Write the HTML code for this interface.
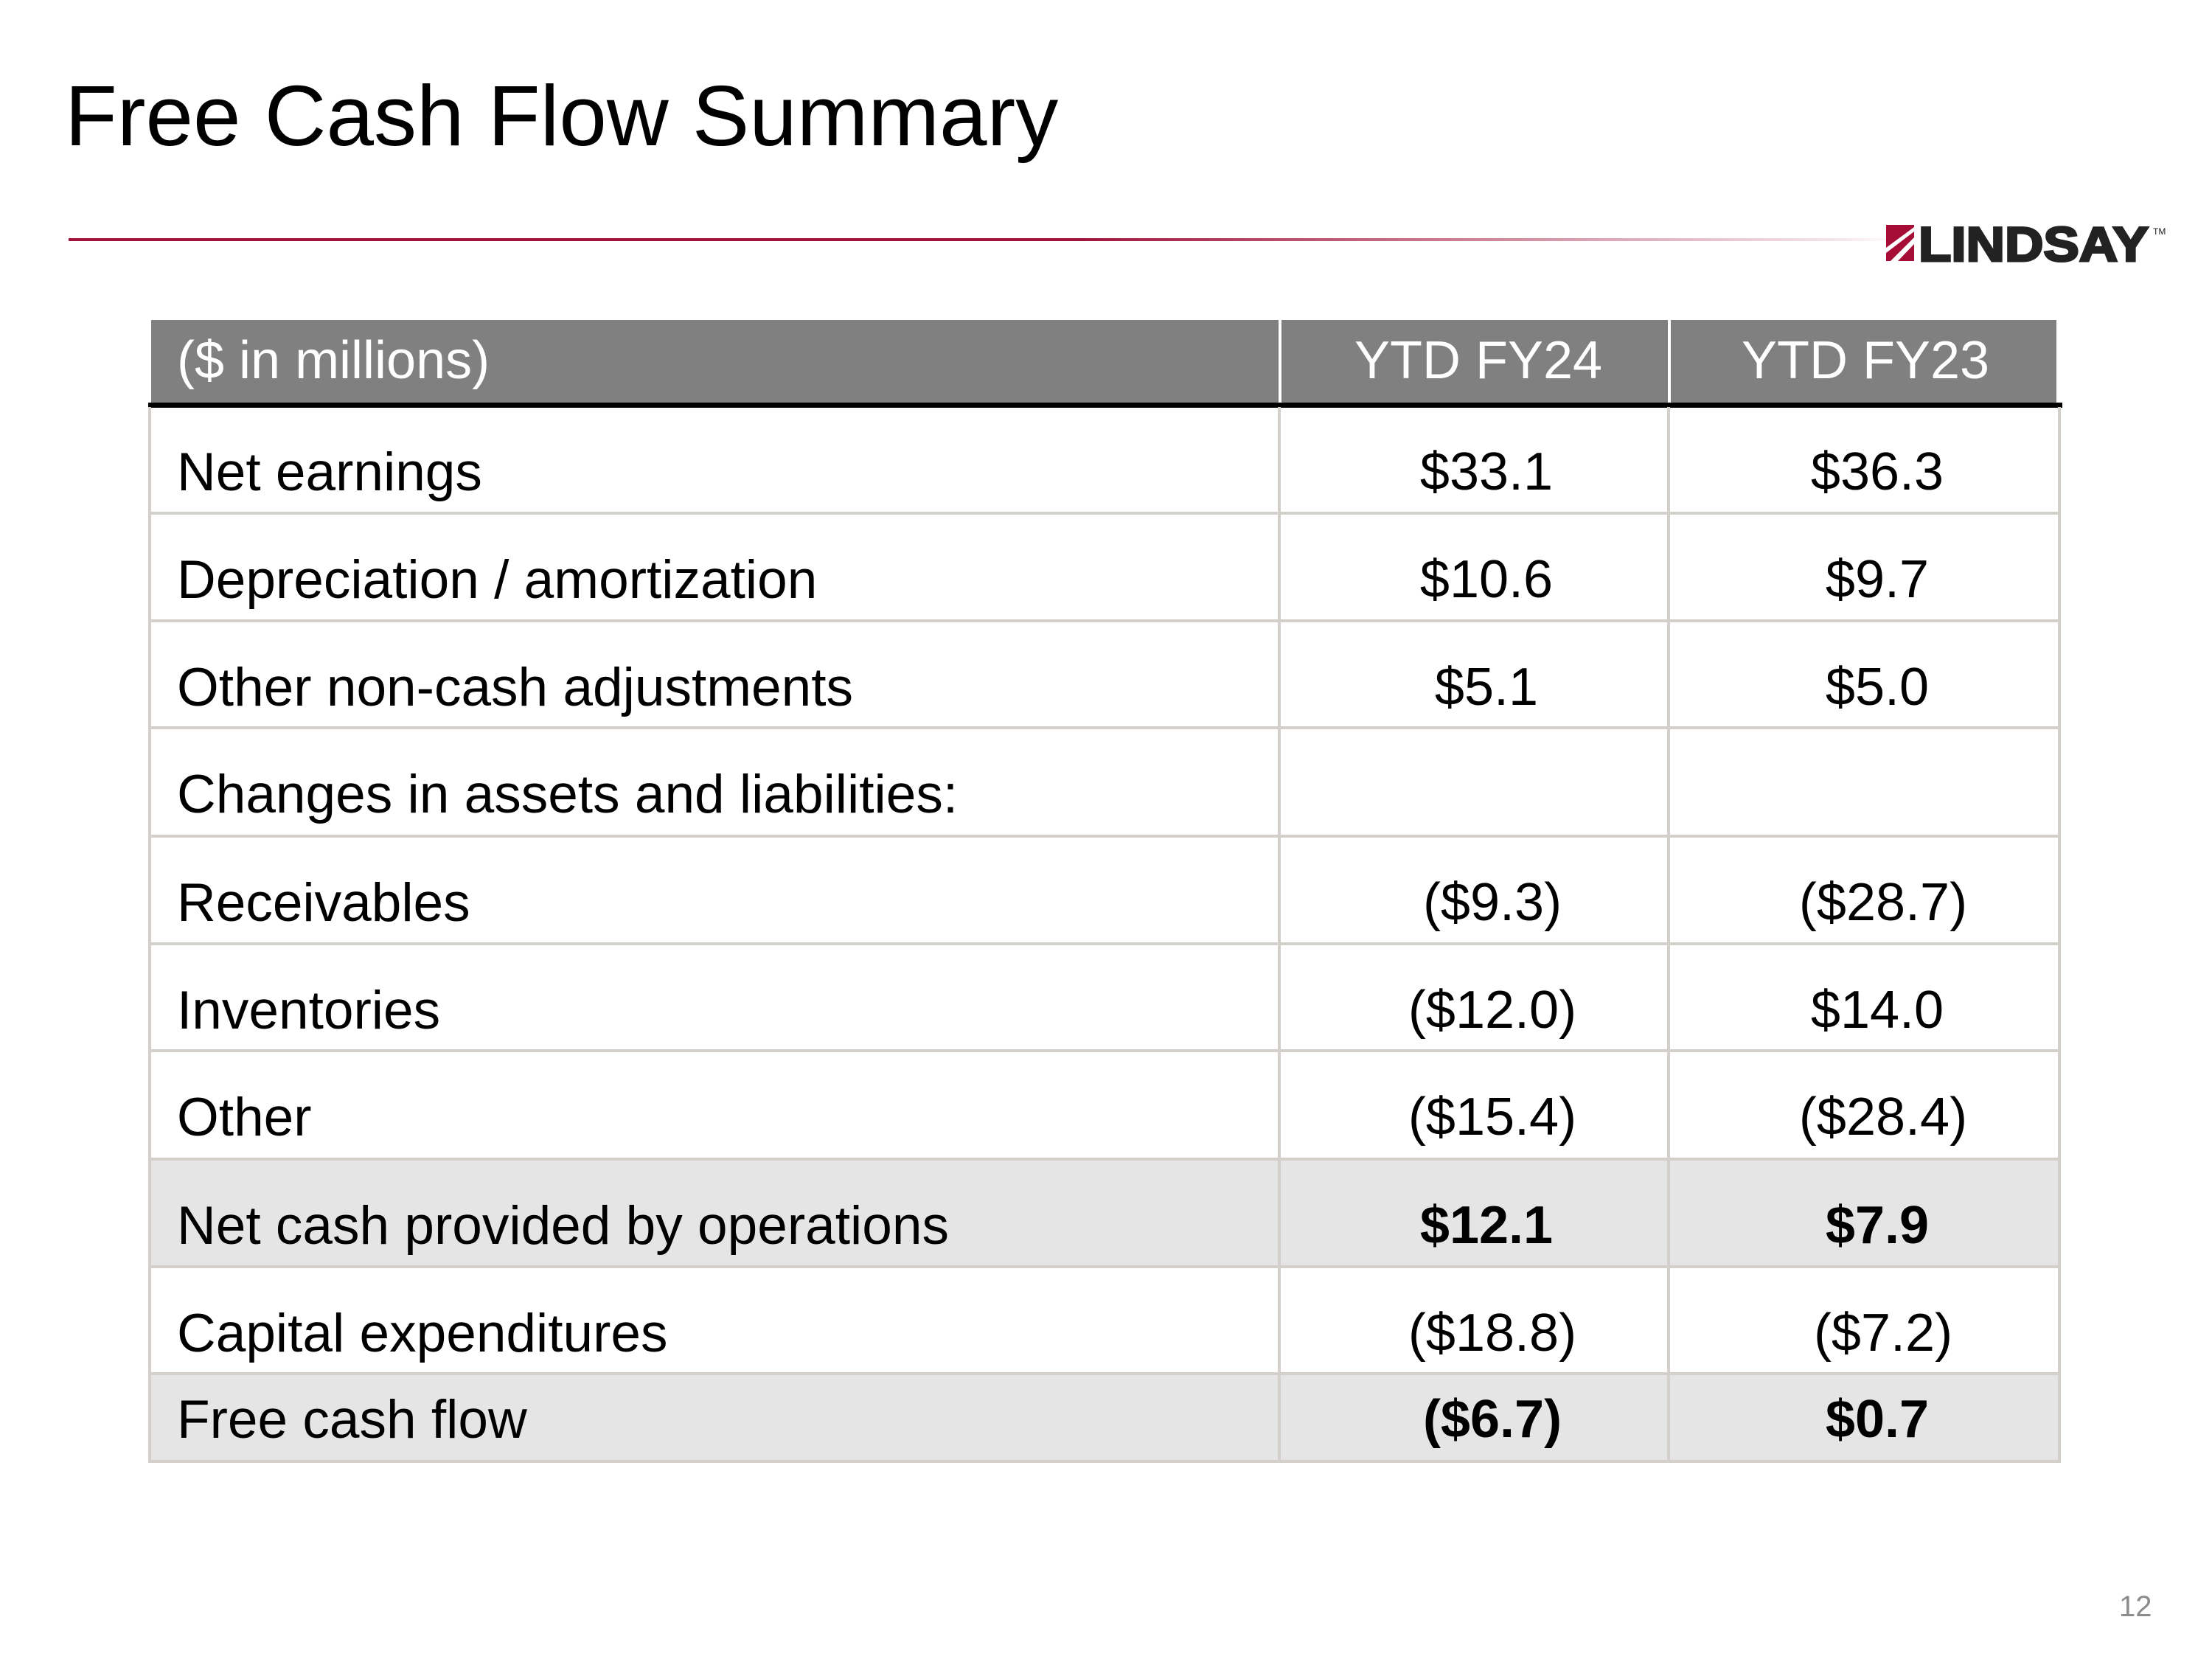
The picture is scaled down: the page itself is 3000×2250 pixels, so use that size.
<!DOCTYPE html>
<html><head><meta charset="utf-8"><style>
body{margin:0;width:3000px;height:2250px;background:#fff;position:relative;overflow:hidden;font-family:"Liberation Sans",Arial,sans-serif;}
.t{position:absolute;white-space:nowrap;}
.l{position:absolute;font-size:73px;color:#000;left:240px;white-space:nowrap;}
.c{position:absolute;font-size:72px;color:#000;width:400px;text-align:center;white-space:nowrap;}
.h{position:absolute;height:4px;left:201px;width:2594px;background:#d3d0cc;}
.v{position:absolute;width:4px;top:552px;height:1432px;background:#d3d0cc;}
</style></head><body>
<div class="t" style="left:88px;top:90px;font-size:116px;color:#000;">Free Cash Flow Summary</div>
<div style="position:absolute;left:93px;top:323px;width:2480px;height:4px;background:linear-gradient(to right,#a0143c 0%,#a0143c 55%,rgba(160,20,60,0.1) 97%,rgba(160,20,60,0) 100%);"></div>
<svg style="position:absolute;left:2550px;top:298px" width="430" height="70">
<polygon points="8,7 46,7 46,56 8,56" fill="#a50d37"/>
<polygon points="8,38 46,10 46,16 8,45" fill="#fff"/>
<polygon points="14,56 46,24 46,33 24,56" fill="#fff"/>
<text x="52" y="56" font-family="Liberation Sans" font-weight="bold" font-size="66" textLength="312" lengthAdjust="spacingAndGlyphs" fill="#222" stroke="#222" stroke-width="3">LINDSAY</text>
<text x="370" y="20" font-family="Liberation Sans" font-size="12" fill="#222">TM</text>
</svg>
<div style="position:absolute;left:205px;top:434px;width:2584px;height:112px;background:#808080;"></div>
<div style="position:absolute;left:1734px;top:434px;width:4px;height:112px;background:#fff;"></div>
<div style="position:absolute;left:2262px;top:434px;width:4px;height:112px;background:#fff;"></div>
<div class="t" style="left:240px;top:448px;font-size:72px;color:#fff;">($ in millions)</div>
<div class="c" style="left:1805px;top:448px;font-size:72px;color:#fff;">YTD FY24</div>
<div class="c" style="left:2330px;top:448px;font-size:72px;color:#fff;">YTD FY23</div>
<div style="position:absolute;left:201px;top:546px;width:2596px;height:7px;background:#000;"></div>
<div style="position:absolute;left:203px;top:1572px;width:2590px;height:146px;background:#e5e5e5;"></div>
<div style="position:absolute;left:203px;top:1863px;width:2590px;height:119px;background:#e5e5e5;"></div>
<div class="v" style="left:201px"></div>
<div class="v" style="left:1733px"></div>
<div class="v" style="left:2261px"></div>
<div class="v" style="left:2791px"></div>
<div class="h" style="top:694px"></div>
<div class="h" style="top:840px"></div>
<div class="h" style="top:985px"></div>
<div class="h" style="top:1132px"></div>
<div class="h" style="top:1278px"></div>
<div class="h" style="top:1423px"></div>
<div class="h" style="top:1570px"></div>
<div class="h" style="top:1716px"></div>
<div class="h" style="top:1861px"></div>
<div class="h" style="top:1980px"></div>
<div class="l" style="top:599px">Net earnings</div><div class="c" style="left:1816px;top:599px">$33.1</div><div class="c" style="left:2346px;top:599px">$36.3</div>
<div class="l" style="top:745px">Depreciation / amortization</div><div class="c" style="left:1816px;top:745px">$10.6</div><div class="c" style="left:2346px;top:745px">$9.7</div>
<div class="l" style="top:891px">Other non-cash adjustments</div><div class="c" style="left:1816px;top:891px">$5.1</div><div class="c" style="left:2346px;top:891px">$5.0</div>
<div class="l" style="top:1036px">Changes in assets and liabilities:</div>
<div class="l" style="top:1183px">Receivables</div><div class="c" style="left:1824px;top:1183px">($9.3)</div><div class="c" style="left:2354px;top:1183px">($28.7)</div>
<div class="l" style="top:1329px">Inventories</div><div class="c" style="left:1824px;top:1329px">($12.0)</div><div class="c" style="left:2346px;top:1329px">$14.0</div>
<div class="l" style="top:1474px">Other</div><div class="c" style="left:1824px;top:1474px">($15.4)</div><div class="c" style="left:2354px;top:1474px">($28.4)</div>
<div class="l" style="top:1621px">Net cash provided by operations</div><div class="c" style="left:1816px;top:1621px;font-weight:bold">$12.1</div><div class="c" style="left:2346px;top:1621px;font-weight:bold">$7.9</div>
<div class="l" style="top:1767px">Capital expenditures</div><div class="c" style="left:1824px;top:1767px">($18.8)</div><div class="c" style="left:2354px;top:1767px">($7.2)</div>
<div class="l" style="top:1884px">Free cash flow</div><div class="c" style="left:1824px;top:1884px;font-weight:bold">($6.7)</div><div class="c" style="left:2346px;top:1884px;font-weight:bold">$0.7</div>
<div class="t" style="left:2874px;top:2157px;font-size:40px;color:#8c8c8c;">12</div>
</body></html>
